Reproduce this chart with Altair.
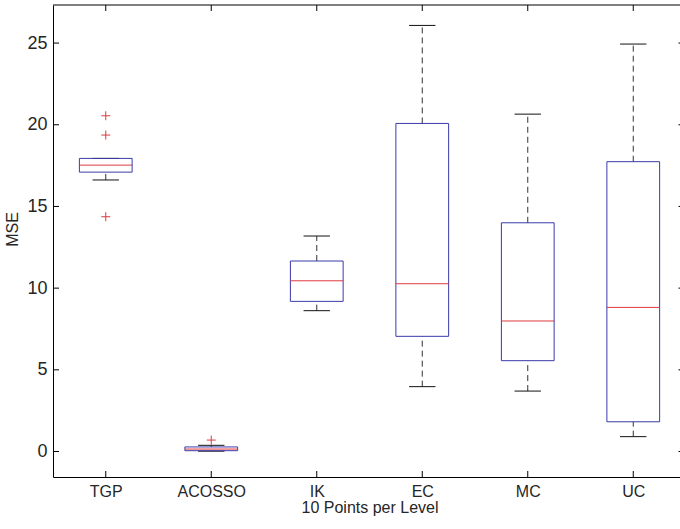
import json
import altair as alt
import pandas as pd

categories = ["TGP", "ACOSSO", "IK", "EC", "MC", "UC"]
q1 = [17.10, 0.05, 9.19, 7.05, 5.56, 1.82]
median = [17.53, 0.15, 10.45, 10.27, 7.99, 8.82]
q3 = [17.94, 0.28, 11.66, 20.08, 14.00, 17.74]
whisker_low = [16.62, 0.02, 8.62, 3.97, 3.70, 0.91]
whisker_high = [17.94, 0.38, 13.19, 26.08, 20.65, 24.94]
outlier_cat = ["TGP", "TGP", "TGP", "ACOSSO"]
outlier_val = [20.55, 19.37, 14.37, 0.70]
y_ticks = [0, 5, 10, 15, 20, 25]

W, H = 627, 472
FONT = "Liberation Sans"
TXT = "#262626"
BLUE = "#3a3aaa"
RED = "#e0393e"

pos = {c: i + 1 for i, c in enumerate(categories)}
boxes = pd.DataFrame({
    "cat": categories,
    "pos": [pos[c] for c in categories],
    "q1": q1, "med": median, "q3": q3, "lo": whisker_low, "hi": whisker_high,
})
outs = pd.DataFrame({"pos": [pos[c] for c in outlier_cat], "val": outlier_val})
yt = pd.DataFrame({"v": y_ticks})

xscale = alt.Scale(domain=[0.5, 6.443], nice=False, zero=False)
yscale = alt.Scale(domain=[-1.56, 27.33], nice=False, zero=False)
label_expr = json.dumps(categories) + "[datum.value - 1]"

xaxis = alt.Axis(values=list(range(1, 7)), labelExpr=label_expr, ticks=False, grid=False,
                 domainColor="#000", domainWidth=1, labelFont=FONT, labelFontSize=16,
                 labelColor=TXT, labelPadding=6, title="10 Points per Level",
                 titleFont=FONT, titleFontSize=16, titleFontWeight="normal", titleColor=TXT,
                 titleX=316.5, titleY=35, titleBaseline="alphabetic", titleAnchor="middle")
yaxis = alt.Axis(values=y_ticks, ticks=False, grid=False, domainColor="#000", domainWidth=1,
                 labelFont=FONT, labelFontSize=18, labelColor=TXT, labelPadding=6,
                 title="MSE", titleFont=FONT, titleFontSize=16, titleFontWeight="normal",
                 titleColor=TXT, titleX=-41, titleY=224, titleAngle=-90,
                 titleBaseline="middle")

base = alt.Chart(boxes).transform_calculate(
    xa="datum.pos - 0.25", xb="datum.pos + 0.25",
    ca="datum.pos - 0.125", cb="datum.pos + 0.125")

whisk_up = base.mark_rule(color="#333", strokeWidth=1, strokeDash=[6, 4]).encode(
    x=alt.X("pos:Q", scale=xscale, axis=xaxis),
    y=alt.Y("q3:Q", scale=yscale, axis=yaxis), y2="hi:Q")
whisk_lo = base.mark_rule(color="#333", strokeWidth=1, strokeDash=[6, 4]).encode(
    x="pos:Q", y="lo:Q", y2="q1:Q")
cap_hi = base.mark_rule(color="#111", strokeWidth=1).encode(x="ca:Q", x2="cb:Q", y="hi:Q")
cap_lo = base.mark_rule(color="#111", strokeWidth=1).encode(x="ca:Q", x2="cb:Q", y="lo:Q")
box = base.mark_rect(filled=False, stroke=BLUE, strokeWidth=1).encode(
    x="xa:Q", x2="xb:Q", y="q1:Q", y2="q3:Q")
med = base.mark_rule(color=RED, strokeWidth=1).encode(x="xa:Q", x2="xb:Q", y="med:Q")
pts = alt.Chart(outs).mark_point(shape="M-1,0L1,0M0,-1L0,1", size=81, filled=False,
                                 color=RED, strokeWidth=1, opacity=1).encode(
    x="pos:Q", y="val:Q")

# inward ticks (MATLAB style)
lt = alt.Chart(yt).mark_rule(color="#000", strokeWidth=1).encode(
    y="v:Q", x=alt.value(0), x2=alt.value(6))
rt = alt.Chart(yt).mark_rule(color="#000", strokeWidth=1).encode(
    y="v:Q", x=alt.value(W - 1.5), x2=alt.value(W))
bt = alt.Chart(boxes).mark_rule(color="#000", strokeWidth=1).encode(
    x="pos:Q", y=alt.value(H - 6), y2=alt.value(H))
tt = alt.Chart(boxes).mark_rule(color="#000", strokeWidth=1).encode(
    x="pos:Q", y=alt.value(0), y2=alt.value(6))
top = alt.Chart(yt.head(1)).mark_rule(color="#000", strokeWidth=1).encode(
    x=alt.value(0), x2=alt.value(W), y=alt.value(0))

chart = alt.layer(whisk_up, whisk_lo, cap_hi, cap_lo, box, med, pts, lt, rt, bt, tt, top).properties(
    width=W, height=H,
    autosize=alt.AutoSizeParams(type="none"),
    padding={"left": 53, "top": 5, "right": 0, "bottom": 52},
    background="white",
).configure_view(stroke=None)

chart.save("out.html", embed_options={"renderer": "svg", "actions": False})
